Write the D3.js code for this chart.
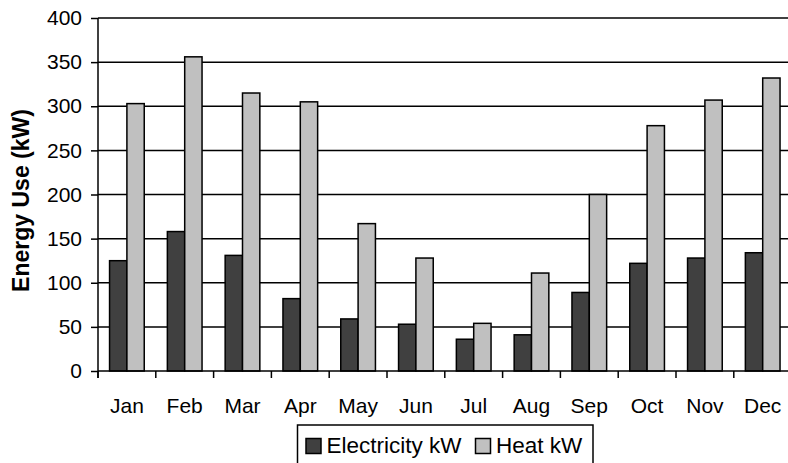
<!DOCTYPE html>
<html><head><meta charset="utf-8">
<script src="https://cdn.jsdelivr.net/npm/d3@7/dist/d3.min.js"></script>
<style>body{margin:0;background:#fff}svg{display:block}text{font-family:"Liberation Sans",Arial,sans-serif;fill:#000}</style>
</head><body><svg id="c" width="788" height="463"></svg>
<script>
const months = ["Jan","Feb","Mar","Apr","May","Jun","Jul","Aug","Sep","Oct","Nov","Dec"];
const electricity = [125,158,131,82,59,53,36,41,89,122,128,134];
const heat = [303,356,315,305,167,128,54,111,200,278,307,332];
const seriesNames = ["Electricity kW","Heat kW"];
const seriesColors = ["#404040","#c0c0c0"];
const yTicks = [0,50,100,150,200,250,300,350,400];

const svg = d3.select("#c");
const L = 98, R = 791.6, T = 18, B = 371;
const x = d3.scaleBand().domain(months).range([L,R]).paddingInner(0.4).paddingOuter(0.2);
const x1 = d3.scaleBand().domain(seriesNames).range([0,x.bandwidth()]);
const y = d3.scaleLinear().domain([0,400]).range([B,T]);

// gridlines
svg.append("g").selectAll("line").data(yTicks.filter(d=>d>0)).join("line")
  .attr("x1",L).attr("x2",788).attr("y1",d=>y(d)).attr("y2",d=>y(d))
  .attr("stroke","#000").attr("stroke-width",1.5);

// bars
const data = months.map((m,i)=>({m, vals:[electricity[i],heat[i]]}));
const g = svg.append("g").selectAll("g").data(data).join("g")
  .attr("transform",d=>`translate(${x(d.m)},0)`);
g.selectAll("rect").data(d=>d.vals.map((v,j)=>({v,s:seriesNames[j],c:seriesColors[j]}))).join("rect")
  .attr("x",d=>x1(d.s)).attr("width",x1.bandwidth())
  .attr("y",d=>y(d.v)).attr("height",d=>B-y(d.v))
  .attr("fill",d=>d.c).attr("stroke","#000").attr("stroke-width",1.5);

// y axis
const ya = svg.append("g").attr("transform",`translate(${L},0)`)
  .call(d3.axisLeft(y).tickValues(yTicks).tickSize(7).tickPadding(9));
ya.select(".domain").attr("stroke","#000").attr("stroke-width",1.5).attr("d",`M-0,${T}V${B+7}`);
ya.selectAll(".tick line").attr("stroke-width",1.5);
ya.selectAll("text").style("font-size","21px").attr("fill","#000");

// x axis: ticks at band boundaries
const step = x.step();
const bounds = d3.range(0,13).map(i=>L+i*step);
svg.append("g").selectAll("line").data(bounds).join("line")
  .attr("x1",d=>d).attr("x2",d=>d).attr("y1",B).attr("y2",B+7)
  .attr("stroke","#000").attr("stroke-width",1.5);
svg.append("line").attr("x1",L).attr("x2",788).attr("y1",B).attr("y2",B)
  .attr("stroke","#000").attr("stroke-width",1.5);
svg.append("g").selectAll("text").data(months).join("text")
  .attr("x",d=>x(d)+x.bandwidth()/2).attr("y",413)
  .attr("text-anchor","middle").style("font-size","21px").text(d=>d);

// y title
svg.append("text").attr("transform","translate(29,200.5) rotate(-90)")
  .attr("text-anchor","middle").style("font-size","23px").style("font-weight","bold")
  .text("Energy Use (kW)");

// legend
const lg = svg.append("g");
lg.append("rect").attr("x",297.5).attr("y",425).attr("width",295.5).attr("height",50)
  .attr("fill","#fff").attr("stroke","#000").attr("stroke-width",1.5);
const items = [{x:306},{x:475.5}];
seriesNames.forEach((s,i)=>{
  lg.append("rect").attr("x",items[i].x).attr("y",438.5).attr("width",15).attr("height",15)
    .attr("fill",seriesColors[i]).attr("stroke","#000").attr("stroke-width",1.5);
  lg.append("text").attr("x",items[i].x+20.5).attr("y",452.5).style("font-size","22.5px").text(s);
});
</script></body></html>
